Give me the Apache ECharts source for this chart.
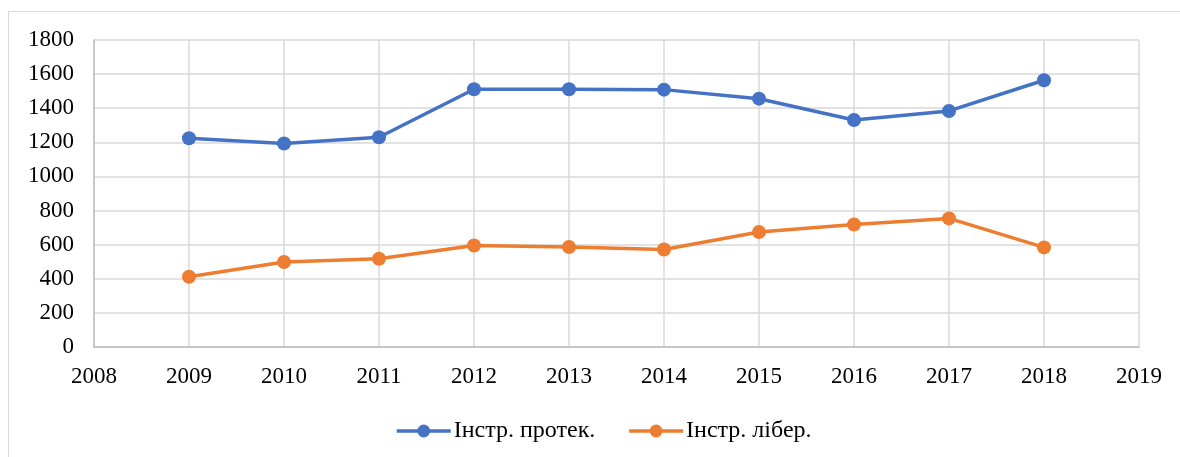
<!DOCTYPE html>
<html>
<head>
<meta charset="utf-8">
<script src="https://cdn.jsdelivr.net/npm/echarts@6/dist/echarts.min.js"></script>
<style>html,body{margin:0;padding:0;background:#fff;}#c{width:1180px;height:457px;}</style>
</head>
<body>
<div id="c"></div>
<script>
const years = [2009, 2010, 2011, 2012, 2013, 2014, 2015, 2016, 2017, 2018];
const protekValues = [1224, 1193, 1230, 1511, 1511, 1509, 1456, 1331, 1384, 1564];
const liberValues = [412, 498, 517, 595, 586, 572, 674, 718, 754, 584];
const seriesNames = ['Інстр. протек.', 'Інстр. лібер.'];

const font = '"Liberation Serif", "Times New Roman", serif';
const chart = echarts.init(document.getElementById('c'), null, {renderer: 'canvas'});
chart.setOption({
  animation: false,
  backgroundColor: '#fff',
  graphic: [{
    type: 'rect', silent: true,
    shape: {x: 8.5, y: 11.5, width: 1200, height: 500},
    style: {fill: 'none', stroke: '#d9d9d9', lineWidth: 1}
  }],
  grid: {left: 94, right: 41, top: 40, bottom: 110, containLabel: false},
  legend: {
    bottom: 9, left: 390,
    itemWidth: 54, itemHeight: 16, itemGap: 32,
    textStyle: {fontFamily: font, fontSize: 24, color: '#000', padding: [0, 0, 0, -2]},
    lineStyle: {width: 3.5},
    data: seriesNames
  },
  xAxis: {
    type: 'value', min: 2008, max: 2019, interval: 1,
    axisLine: {show: true, lineStyle: {color: '#bfbfbf', width: 1.5}},
    axisTick: {show: false},
    splitLine: {show: true, lineStyle: {color: '#d9d9d9', width: 1.5}},
    axisLabel: {fontFamily: font, fontSize: 23, color: '#000', margin: 18, formatter: v => String(v)}
  },
  yAxis: {
    type: 'value', min: 0, max: 1800, interval: 200,
    axisLine: {show: true, lineStyle: {color: '#bfbfbf', width: 1.5}},
    axisTick: {show: false},
    splitLine: {show: true, lineStyle: {color: '#d9d9d9', width: 1.5}},
    axisLabel: {fontFamily: font, fontSize: 23, color: '#000', margin: 20, formatter: v => String(v)}
  },
  series: [
    {
      name: seriesNames[0], type: 'line',
      data: years.map((y, i) => [y, protekValues[i]]),
      symbol: 'circle', symbolSize: 14,
      itemStyle: {color: '#4472c4'},
      lineStyle: {color: '#4472c4', width: 3.5}
    },
    {
      name: seriesNames[1], type: 'line',
      data: years.map((y, i) => [y, liberValues[i]]),
      symbol: 'circle', symbolSize: 14,
      itemStyle: {color: '#ed7d31'},
      lineStyle: {color: '#ed7d31', width: 3.5}
    }
  ]
});
</script>
</body>
</html>
